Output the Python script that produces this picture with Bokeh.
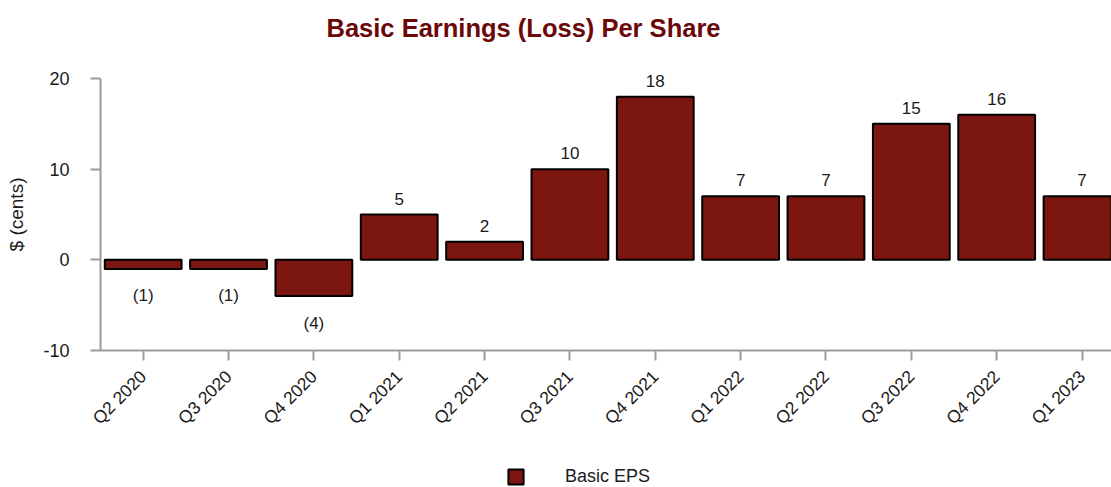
from bokeh.plotting import figure
from bokeh.models import (ColumnDataSource, Range1d, FixedTicker, LabelSet, Legend,
                          LegendItem, Label)
from bokeh.core.properties import value
from bokeh.embed import file_html
from bokeh.resources import INLINE
import math

quarters = ["Q2 2020", "Q3 2020", "Q4 2020", "Q1 2021", "Q2 2021", "Q3 2021",
            "Q4 2021", "Q1 2022", "Q2 2022", "Q3 2022", "Q4 2022", "Q1 2023"]
eps = [-1, -1, -4, 5, 2, 10, 18, 7, 7, 15, 16, 7]
y_ticks = [-10, 0, 10, 20]
title_text = "Basic Earnings (Loss) Per Share"
series_name = "Basic EPS"

FONT = "Liberation Sans"
BAR = "#7c1610"
AXIS = "#9b9b9b"
TEXT = "#1a1a1a"

W, H = 1111, 487
AXIS_X_PX = 100               # pixel column of the y axis
PX_PER_CAT = 85.35            # horizontal pixels per category
PX_PER_UNIT = 272 / 30.0      # vertical pixels per cent
TOP_PX = 78                   # pixel row of the top tick (20)
y_hi = 20 + TOP_PX / PX_PER_UNIT
y_lo = y_hi - H / PX_PER_UNIT
x_lo = -AXIS_X_PX / PX_PER_CAT
x_hi = (W - AXIS_X_PX) / PX_PER_CAT

xs = [i + 0.5 for i in range(len(quarters))]
labels = [f"({-v})" if v < 0 else str(v) for v in eps]
yoff = [-27 if v < 0 else 16 for v in eps]
src = ColumnDataSource(dict(x=xs, eps=eps, label=labels, yoff=yoff))

p = figure(width=W, height=H, output_backend="svg", toolbar_location=None,
           x_range=Range1d(x_lo, x_hi), y_range=Range1d(y_lo, y_hi),
           min_border_left=0, min_border_right=0, min_border_top=0,
           min_border_bottom=0)
p.title.visible = False
p.outline_line_color = None
p.xgrid.grid_line_color = None
p.ygrid.grid_line_color = None
p.background_fill_color = "white"

r = p.vbar(x="x", top="eps", bottom=0, width=0.9, source=src,
           fill_color=BAR, line_color="black", line_width=2)

ls = LabelSet(x="x", y="eps", text="label", y_offset="yoff", source=src,
              text_align="center", text_baseline="middle",
              text_font=value(FONT), text_font_size="17px", text_color=TEXT)
p.add_layout(ls)

# axes
p.xaxis.fixed_location = y_ticks[0]
p.xaxis.bounds = (0, x_hi)
p.xaxis.ticker = FixedTicker(ticks=xs)
p.xaxis.major_label_overrides = {x: q for x, q in zip(xs, quarters)}
p.xaxis.major_label_orientation = math.pi / 4
p.xaxis.major_label_text_font = FONT
p.xaxis.major_label_text_font_size = "17.5px"
p.xaxis.major_label_text_color = TEXT
p.xaxis.major_label_standoff = 13
p.xaxis.minor_tick_line_color = None
p.yaxis.fixed_location = 0
p.yaxis.ticker = FixedTicker(ticks=y_ticks)
p.yaxis.bounds = (y_ticks[0], y_ticks[-1])
p.yaxis.major_label_overrides = {t: str(t) for t in y_ticks}
p.yaxis.minor_tick_line_color = None
p.yaxis.major_label_text_font = FONT
p.yaxis.major_label_text_font_size = "18px"
p.yaxis.major_label_text_color = TEXT
p.yaxis.major_label_standoff = 21
p.yaxis.axis_label = "$ (cents)"
p.yaxis.axis_label_text_font = FONT
p.yaxis.axis_label_text_font_style = "normal"
p.yaxis.axis_label_text_font_size = "19px"
p.yaxis.axis_label_text_color = TEXT
p.yaxis.axis_label_standoff = 13
for ax in (p.xaxis, p.yaxis):
    ax.axis_line_color = AXIS
    ax.axis_line_width = 2
    ax.major_tick_line_color = AXIS
    ax.major_tick_line_width = 2
    ax.major_tick_out = 10
    ax.major_tick_in = 0

title = Label(x=523, y=H - 27, x_units="screen", y_units="screen", text=title_text,
              text_align="center", text_baseline="middle",
              text_font=FONT, text_font_size="25.5px", text_font_style="bold",
              text_color="#6b0707")
p.add_layout(title)

legend = Legend(items=[LegendItem(label=series_name, renderers=[r])],
                location=(506, 0), orientation="horizontal",
                glyph_width=19, glyph_height=19, label_standoff=40,
                label_text_font=FONT, label_text_font_size="18px",
                label_text_color=TEXT, padding=0, margin=0, spacing=0,
                border_line_color=None, background_fill_alpha=0)
p.add_layout(legend, "center")

open("out.html", "w").write(file_html(p, INLINE))
